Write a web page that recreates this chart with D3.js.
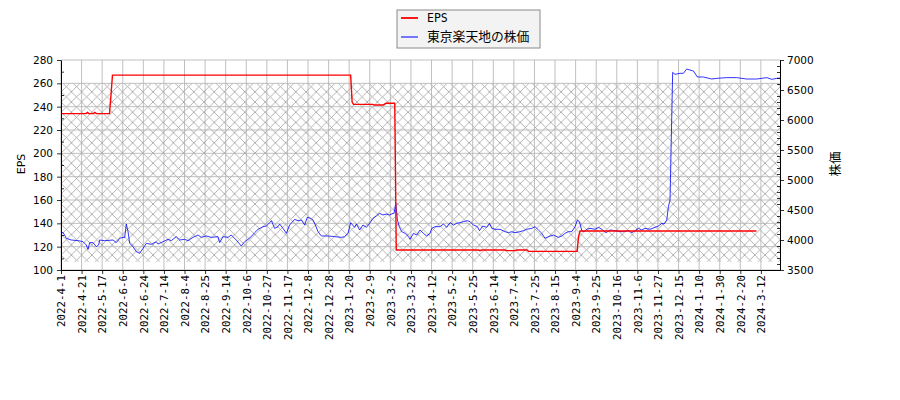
<!DOCTYPE html>
<html><head><meta charset="utf-8">
<script src="https://cdn.jsdelivr.net/npm/d3@7"></script>
<style>body{margin:0;background:#fff}</style>
</head><body><svg id="c" width="900" height="400"></svg>
<script>
// ---- data ----
const tickLabels = ["2022-4-1","2022-4-21","2022-5-17","2022-6-6","2022-6-24","2022-7-14","2022-8-4","2022-8-25","2022-9-14","2022-10-6","2022-10-27","2022-11-17","2022-12-8","2022-12-28","2023-1-20","2023-2-9","2023-3-2","2023-3-23","2023-4-12","2023-5-2","2023-5-25","2023-6-14","2023-7-4","2023-7-25","2023-8-15","2023-9-4","2023-9-25","2023-10-16","2023-11-6","2023-11-27","2023-12-15","2024-1-10","2024-1-30","2024-2-20","2024-3-12"];
const tickIdx = [0,14,28,42,56,70,84,98,112,126,140,154,168,182,196,210,224,238,252,266,280,294,308,322,336,350,364,378,392,406,420,434,448,462,476];
const lastIdx = 489;
// stock price (trading-day index, yen)
const priceIdx = [0,1.4,3.6,7,11.6,15,17.2,18.4,19.5,21.8,24,25.6,26.3,29.7,35.4,37.6,39.9,42.2,43.3,44.4,45.6,46.7,49,51.2,53.5,55.8,58,61.4,64.8,66,69.4,72.8,75,78.4,80.7,84.1,86.4,89.8,93.2,95.4,98.8,102.2,106.8,107.9,110.2,113.6,115.8,119.2,122.6,124.9,127.2,129.4,131.7,134,137.4,139.7,141.9,143.1,145.3,147.6,148.7,151,153.3,155.5,158.9,161.2,163.5,165.7,167.5,169.8,171.4,173,174.8,177.1,181.6,186.1,190.7,192.9,195.2,197,199.7,200.9,203.1,205.4,207.7,209.9,212.2,214.5,216.7,219,221.3,223.5,225.8,226.5,227.7,228.8,230.1,231.7,234,236.3,237.4,239.7,241.9,244.2,246.5,248.7,251,252.1,254.4,257.8,260.1,262.3,264.6,266.9,269.1,271.4,273.7,276.4,278.2,280.5,283.2,284.6,286.8,289.5,291.4,293,295.2,298.6,302,304.3,306.5,308.8,312.2,314.5,316.7,320.2,322.4,324.7,327,329.2,331.5,334.9,338.3,340.6,342.8,345.1,347.4,349.6,351.2,352.6,354.2,355.7,357.6,359.8,363.2,365.5,367.8,370.7,373.4,376.8,380.2,382.5,385.9,388.2,390.4,392.7,395,397.2,400.6,404,406.3,408.6,410.2,412,413.1,414.2,416,417.6,421,423.3,425.5,427.8,430.1,432.8,436.9,442.5,446,452.7,459.5,466.3,473.1,480,483.4,486.8,489];
const price = [4111,4128,4028,4000,3989,3972,3917,3844,3956,3956,3889,3917,4000,3989,4000,3956,4028,4044,4039,4267,4139,3944,3889,3806,3778,3861,3944,3928,3972,3933,3972,4011,3989,4056,4000,4011,3989,4044,4083,4044,4067,4044,4056,3956,4056,4044,4083,4000,3900,3972,4011,4056,4122,4178,4222,4233,4289,4322,4194,4222,4267,4194,4111,4250,4344,4322,4333,4250,4378,4361,4333,4250,4139,4067,4067,4056,4044,4056,4111,4289,4211,4267,4167,4250,4211,4278,4361,4400,4444,4417,4433,4417,4444,4444,4611,4333,4222,4139,4111,4056,4011,4111,4083,4167,4111,4067,4111,4194,4222,4222,4267,4211,4289,4250,4278,4289,4306,4322,4306,4250,4222,4156,4233,4211,4278,4194,4178,4178,4139,4122,4139,4122,4139,4156,4178,4194,4222,4167,4111,4028,4056,4083,4044,4067,4111,4139,4139,4222,4333,4306,4156,4139,4178,4194,4178,4211,4178,4122,4167,4156,4139,4139,4156,4122,4156,4194,4167,4194,4178,4211,4233,4278,4267,4333,4556,4667,6794,6761,6778,6778,6850,6833,6817,6717,6717,6683,6694,6706,6706,6683,6683,6706,6678,6694,6700];
// EPS (trading-day index, yen)
const epsIdx = [0,17,18,19,22,23,24,33,34,35,197,198,199,212,213,219,221,227,228,284,285,286,302,303,309,310,317,318,351,352,353,473];
const eps = [234,234,235,234,234,235,234,234,250,267,267,244,242,242,241.4,241.4,242.9,242.9,117.1,117.1,116.6,117.1,117.1,116.6,116.6,117.1,117.1,116.0,116.0,128.6,133.4,133.4];
const hatchRange = [107, 260];
const leftTicks = [100,120,140,160,180,200,220,240,260,280];
const rightTicks = [3500,4000,4500,5000,5500,6000,6500,7000];

// ---- layout ----
const L = 61, R = 780, T = 60, B = 270;
const svg = d3.select("#c");
const x = d3.scaleLinear().domain([0, lastIdx]).range([L, R]);
const yL = d3.scaleLinear().domain([100, 280]).range([B, T]);
const yR = d3.scaleLinear().domain([3500, 7000]).range([B, T]);

const hs = 10.2;
const pat = svg.append("defs").append("pattern").attr("id","hatch")
  .attr("patternUnits","userSpaceOnUse").attr("width",hs).attr("height",hs);
pat.append("path").attr("d",`M0,0L${hs},${hs}M${hs},0L0,${hs}`)
  .attr("stroke","#a0a0a0").attr("stroke-width",0.8).attr("fill","none");

svg.append("rect").attr("x",L).attr("width",R-L)
  .attr("y",yL(hatchRange[1])).attr("height",yL(hatchRange[0])-yL(hatchRange[1]))
  .attr("fill","url(#hatch)");

// grid
const grid = svg.append("g").attr("stroke","#b0b0b0").attr("stroke-width",0.8);
grid.selectAll("line.v").data(tickIdx).join("line").attr("class","v")
  .attr("x1",d=>x(d)).attr("x2",d=>x(d)).attr("y1",T).attr("y2",B);
grid.selectAll("line.h").data(leftTicks).join("line").attr("class","h")
  .attr("x1",L).attr("x2",R).attr("y1",d=>yL(d)).attr("y2",d=>yL(d));

// lines
const priceData = priceIdx.map((d,i)=>[d,price[i]]);
const epsData = epsIdx.map((d,i)=>[d,eps[i]]);
svg.append("path").datum(priceData)
  .attr("d", d3.line().x(d=>x(d[0])).y(d=>yR(d[1])))
  .attr("fill","none").attr("stroke","#0000ff").attr("stroke-width",0.8);
svg.append("path").datum(epsData)
  .attr("d", d3.line().x(d=>x(d[0])).y(d=>yL(d[1])))
  .attr("fill","none").attr("stroke","#ff0000").attr("stroke-width",1.4);

// axes
const fnt = "DejaVu Sans, sans-serif";
const gl = svg.append("g").attr("transform",`translate(${L},0)`)
  .call(d3.axisLeft(yL).tickValues(leftTicks).tickSize(4).tickSizeOuter(0).tickPadding(4).tickFormat(d3.format("d")));
const leftMinor = d3.range(110, 280, 20);
svg.append("g").attr("transform",`translate(${L},0)`)
  .call(d3.axisRight(yL).tickValues(leftMinor).tickSize(3).tickFormat(""))
  .call(g=>g.select(".domain").remove());
const gr = svg.append("g").attr("transform",`translate(${R},0)`)
  .call(d3.axisRight(yR).tickValues(rightTicks).tickSize(4).tickSizeOuter(0).tickPadding(3).tickFormat(d3.format("d")));
const rightMinor = d3.range(3600, 7000, 100).filter(v=>v%500!==0);
svg.append("g").attr("transform",`translate(${R},0)`)
  .call(d3.axisLeft(yR).tickValues(rightMinor).tickSize(3).tickFormat(""))
  .call(g=>g.select(".domain").remove());
const gb = svg.append("g").attr("transform",`translate(0,${B})`)
  .call(d3.axisBottom(x).tickValues(tickIdx).tickFormat((d,i)=>tickLabels[i]).tickSize(4).tickSizeOuter(0));
gb.selectAll("text").attr("transform","rotate(-90)").attr("text-anchor","end")
  .attr("x",-5).attr("y",0).attr("dy","0.35em")
  .style("font-family","DejaVu Sans Mono, monospace").style("font-size","10.8px");
[gl,gr].forEach(g=>g.selectAll("text").style("font-family",fnt).style("font-size","10.5px").attr("fill","#000"));
svg.selectAll(".domain").attr("stroke","#000").attr("stroke-width",1);
svg.selectAll(".tick line").attr("stroke","#000").attr("stroke-width",0.8);

// axis titles
svg.append("text").attr("transform","translate(21,164) rotate(-90)").attr("text-anchor","middle")
  .attr("dy","0.35em").style("font-family",fnt).style("font-size","11px").text("EPS");
svg.append("text").attr("transform","translate(836,164) rotate(-90)").attr("text-anchor","middle")
  .attr("dy","0.35em").style("font-family","Noto Sans CJK JP, sans-serif").style("font-size","12.5px").text("株価");

// legend
const lg = svg.append("g");
lg.append("rect").attr("x",397).attr("y",10).attr("width",143).attr("height",38)
  .attr("fill","#f3f3f3").attr("stroke","#8a8a8a").attr("stroke-width",1);
const legendItems = [["EPS","#ff0000",1.4],["東京楽天地の株価","#4040ff",1]];
legendItems.forEach((it,i)=>{
  const yy = 18 + i*19;
  lg.append("line").attr("x1",401).attr("x2",418).attr("y1",yy).attr("y2",yy)
    .attr("stroke",it[1]).attr("stroke-width",it[2]+0.4);
  lg.append("text").attr("x",427).attr("y",yy).attr("dy","0.35em")
    .style("font-family", i===0 ? "DejaVu Sans Mono, monospace" : "Noto Sans CJK JP, sans-serif")
    .style("font-size", i===0 ? "11.5px" : "12.8px").text(it[0]);
});
</script></body></html>
